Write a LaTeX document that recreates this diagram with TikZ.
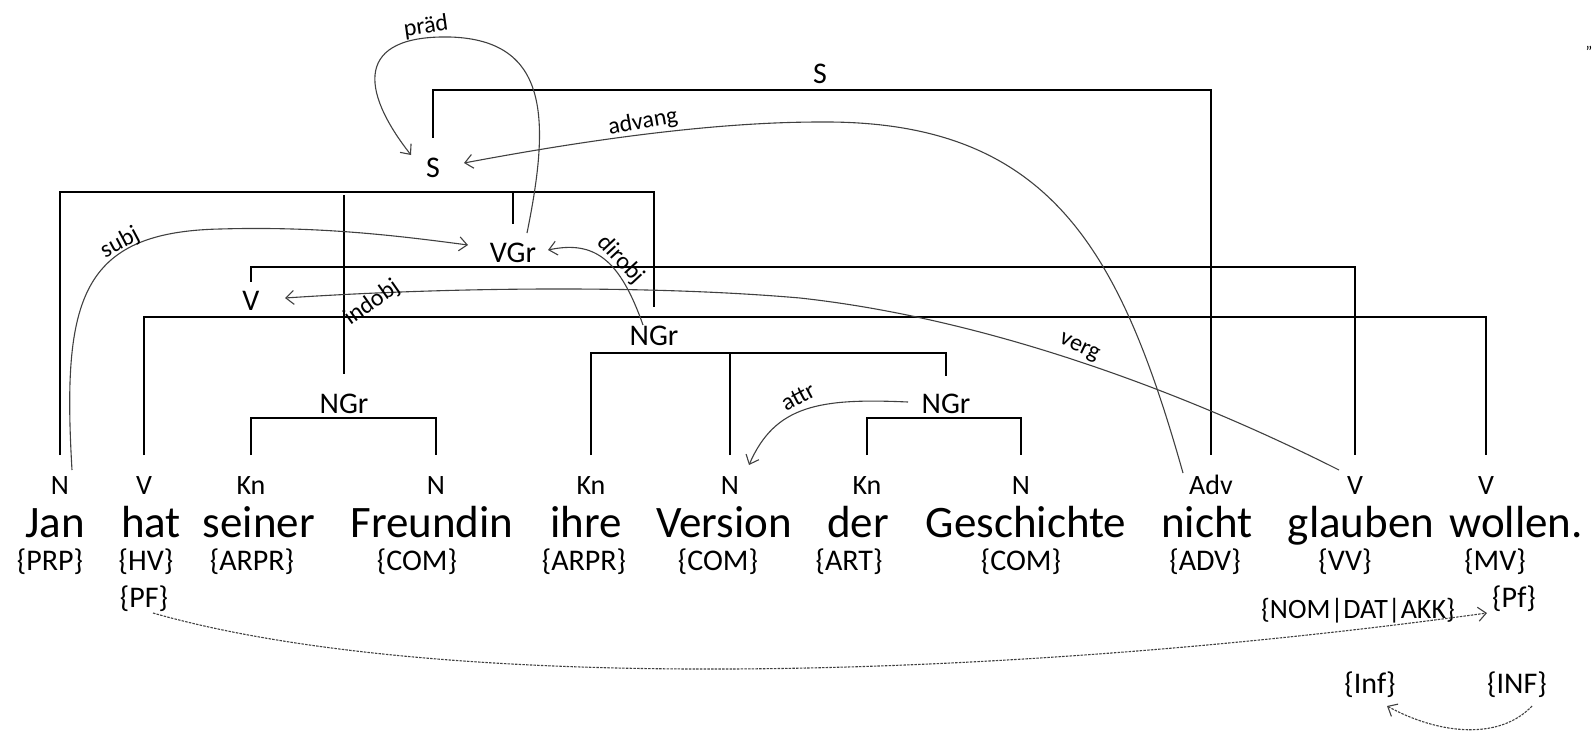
\documentclass[tikz,border=0pt]{standalone}
\usepackage{fontspec}
\setmainfont{Carlito}
\usetikzlibrary{arrows.meta,calc}
\begin{document}
\begin{tikzpicture}[x=1pt,y=-1pt,
  word/.style={anchor=base,inner sep=0pt,font=\fontsize{45}{54}\selectfont},
  tag/.style={anchor=base,inner sep=0pt,font=\fontsize{30}{36}\selectfont},
  leaf/.style={anchor=base,inner sep=0pt,text height=18pt,text depth=0pt,outer ysep=21pt,font=\fontsize{28}{34}\selectfont},
  cat/.style={anchor=base,inner sep=0pt,text height=19.5pt,text depth=0pt,font=\fontsize{30}{36}\selectfont},
  tree/.style={line width=2pt,black},
  rel/.style={line width=1.1pt,black!75,-{Straight Barb[length=8pt,width=14pt]}},
  dep/.style={rel,dash pattern=on 2.5pt off 1.2pt},
  lab/.style={inner sep=0pt,font=\fontsize{24}{29}\selectfont}]
\useasboundingbox (0,0) rectangle (1595,732);

% level coordinates
\coordinate (lvl0) at (0,90);
\coordinate (lvl1) at (0,192);
\coordinate (lvl1b) at (0,195);
\coordinate (lvl2) at (0,267);
\coordinate (lvl3) at (0,317);
\coordinate (lvl4) at (0,353);
\coordinate (lvl5) at (0,418);

% words
\node[word] (w1) at (55,537) {Jan};
\node[word] (w2) at (151,537) {hat};
\node[word] (w3) at (259,537) {seiner};
\node[word] (w4) at (432,537) {Freundin};
\node[word] (w5) at (586,537) {ihre};
\node[word] (w6) at (724,537) {Version};
\node[word] (w7) at (858,537) {der};
\node[word] (w8) at (1026,537) {Geschichte};
\node[word] (w9) at (1207,537) {nicht};
\node[word] (w10) at (1361,537) {glauben};
\node[word] (w11) at (1516,537) {wollen.};

% tags
\node[tag] (t1) at (50,570) {\{PRP\}};
\node[tag] (t2) at (146,570) {\{HV\}};
\node[tag] (t3) at (252,570) {\{ARPR\}};
\node[tag] (t4) at (417,570) {\{COM\}};
\node[tag] (t5) at (584,570) {\{ARPR\}};
\node[tag] (t6) at (718,570) {\{COM\}};
\node[tag] (t7) at (849,570) {\{ART\}};
\node[tag] (t8) at (1021,570) {\{COM\}};
\node[tag] (t9) at (1205,570) {\{ADV\}};
\node[tag] (t10) at (1345,570) {\{VV\}};
\node[tag] (t11) at (1495,570) {\{MV\}};
\node[tag] (tPF) at (144,607) {\{PF\}};
\node[tag] (tPf2) at (1514,607) {\{Pf\}};
\node[tag,font=\fontsize{28}{34}\selectfont] (tNOM) at (1358,618) {\{NOM|DAT|AKK\}};
\node[tag] (tInf) at (1370,693) {\{Inf\}};
\node[tag] (tINF) at (1517,693) {\{INF\}};

% leaf categories
\node[leaf] (c1) at (60,494) {N};
\node[leaf] (c2) at (144,494) {V};
\node[leaf] (c3) at (251,494) {Kn};
\node[leaf] (c4) at (436,494) {N};
\node[leaf] (c5) at (591,494) {Kn};
\node[leaf] (c6) at (730,494) {N};
\node[leaf] (c7) at (867,494) {Kn};
\node[leaf] (c8) at (1021,494) {N};
\node[leaf] (c9) at (1211,494) {Adv};
\node[leaf] (c10) at (1355,494) {V};
\node[leaf] (c11) at (1486,494) {V};

% inner categories
\node[cat] (nStop) at (820,83) {S};
\node[cat] (nS) at (433,177) {S};
\node[cat] (nVGr) at (513,262) {VGr};
\node[cat] (nV) at (251,310) {V};
\node[cat] (nNGr1) at (344,413) {NGr};
\node[cat] (nNGr2) at (654,345) {NGr};
\node[cat] (nNGr3) at (946,413) {NGr};

% tree brackets
\draw[tree] ([yshift=19.5pt]nS.north) |- (lvl0 -| c9) -- (c9.north);
\draw[tree] (c1.north) |- (lvl1 -| nNGr2) -- ([yshift=18.5pt]nNGr2.north);
\draw[tree] ([yshift=18.5pt]nVGr.north) -- (nVGr |- lvl1);
\draw[tree] ([yshift=19.5pt]nNGr1.north) -- (nNGr1 |- lvl1b);
\draw[tree] ([yshift=8.5pt]nV.north) |- (lvl2 -| c10) -- (c10.north);
\draw[tree] (c2.north) |- (lvl3 -| c11) -- (c11.north);
\draw[tree] (c5.north) |- (lvl4 -| nNGr3) -- ([yshift=17.5pt]nNGr3.north);
\draw[tree] (c6.north) -- (c6 |- lvl4);
\draw[tree] (c7.north) |- (lvl5 -| c8) -- (c8.north);
\draw[tree] (c3.north) |- (lvl5 -| c4) -- (c4.north);

% relations
\draw[rel] ($(nVGr.base)+(14,-29)$) .. controls (550,120) and (550,40) .. (450,37)
  .. controls (355,35) and (360,90) .. ($(nS.base)+(-22,-22)$);
\draw[rel] ($(c9.base)+(-28,-21)$) .. controls (1120,250) and (1050,120) .. (820,122)
  .. controls (700,122) and (560,145) .. ($(nS.base)+(31,-14)$);
\draw[rel] ($(c1.base)+(12,-24)$) .. controls (62,300) and (80,232) .. (220,229)
  .. controls (320,226) and (400,236) .. ($(nVGr.base)+(-45,-17)$);
\draw[rel] ($(nNGr2.base)+(-11,-20)$) .. controls (620,260) and (595,240) .. ($(nVGr.base)+(35,-12)$);
\draw[rel] ($(c10.base)+(-16,-24)$) .. controls (1200,400) and (1000,320) .. (800,298)
  .. controls (650,285) and (450,287) .. ($(nV.base)+(34,-12)$);
\draw[rel] ($(nNGr3.base)+(-38,-11)$) .. controls (820,398) and (775,405) .. ($(c6.base)+(19,-29)$);
\draw[dep] ($(tPF.base)+(9,6)$) .. controls (440,695) and (1000,680) .. ($(tPf2.base)+(-27,6)$);
\draw[dep] ($(tINF.base)+(15,13)$) .. controls (1500,740) and (1440,735) .. ($(tInf.base)+(17,13)$);

% relation labels
\node[lab,rotate=8] (lpraed) at (426,27) {präd};
\node[lab,rotate=10] (ladvang) at (643,122) {advang};
\node[lab,rotate=28] (lsubj) at (120,243) {subj};
\node[lab,rotate=-47] (ldirobj) at (621,260) {dirobj};
\node[lab,rotate=35] (lindobj) at (372,303) {indobj};
\node[lab,rotate=-25] (lverg) at (1079,348) {verg};
\node[lab,rotate=28] (lattr) at (798,397) {attr};

\node[anchor=base,inner sep=0pt,font=\fontsize{16}{16}\selectfont] (dots) at (1589,57) {''};
\end{tikzpicture}
\end{document}
